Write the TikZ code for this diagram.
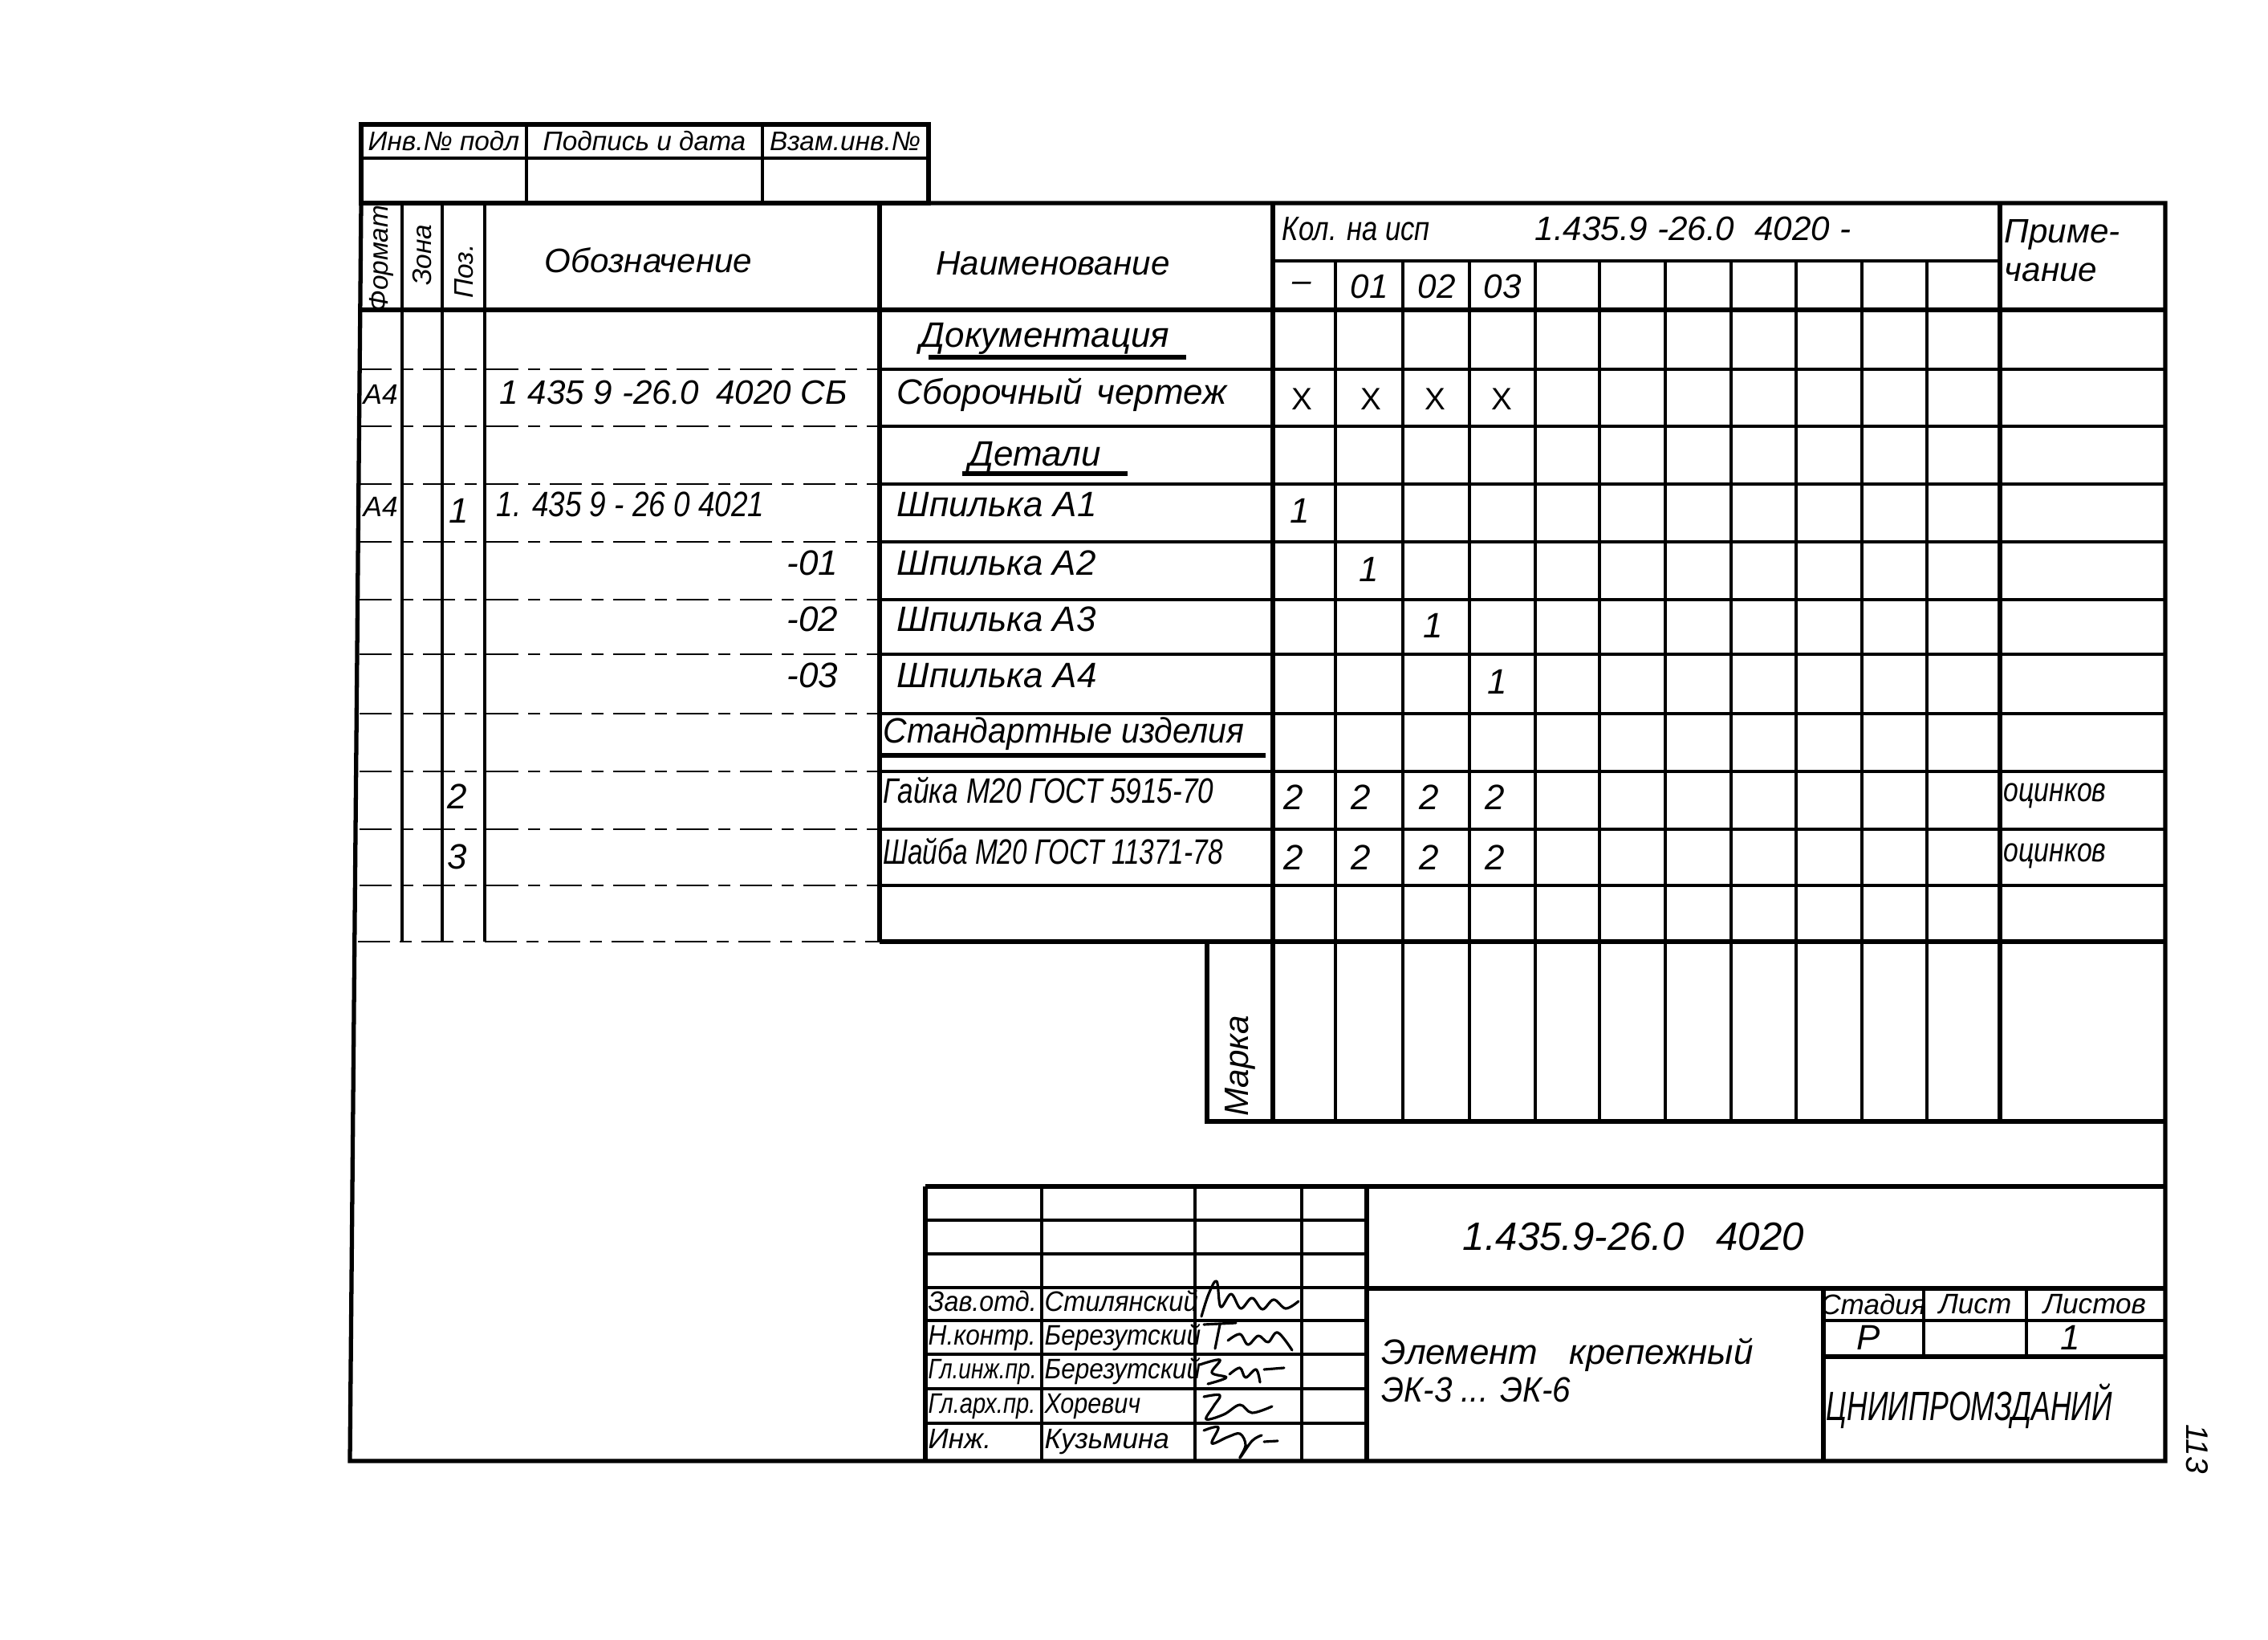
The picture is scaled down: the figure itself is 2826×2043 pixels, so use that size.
\documentclass[tikz,border=0pt]{standalone}
\usepackage{fontspec}
\setmainfont{Liberation Sans}
\newcommand{\nar}[2]{\scalebox{#1}[1]{#2}}
\begin{document}
\begin{tikzpicture}[x=0.1mm,y=-0.1mm,
  frm/.style={line width=1.5pt},
  grd/.style={line width=1.1pt},
  dsh/.style={line width=0.7pt,dash pattern=on 4mm off 1.2mm on 1.5mm off 1.2mm},
  sig/.style={line width=0.9pt,line cap=round,line join=round},
  ulin/.style={line width=1.6pt},
  tx/.style={inner sep=0pt,font=\fontsize{12.5}{14}\selectfont\itshape},
  tm/.style={inner sep=0pt,font=\fontsize{12}{14}\selectfont\itshape},
  ts/.style={inner sep=0pt,font=\fontsize{10}{12}\selectfont\itshape},
  tss/.style={inner sep=0pt,font=\fontsize{9.5}{11}\selectfont\itshape},
  tb/.style={inner sep=0pt,font=\fontsize{14}{16}\selectfont\itshape},
  xm/.style={inner sep=0pt,font=\fontsize{11}{12}\selectfont},
]
\fill[white] (0,0) rectangle (2826,2043);
\useasboundingbox (0,0) rectangle (2826,2043);

% ---------- stamp at top left ----------
\draw[frm] (450,155) rectangle (1157,253);
\draw[grd] (450,197) -- (1157,197) (656,155) -- (656,253) (950,155) -- (950,253);
\node[tss] (s1) at (553,176) {Инв.№ подл};
\node[tss] (s2) at (803,176) {Подпись и дата};
\node[tss] (s3) at (1053,176) {Взам.инв.№};

% ---------- outer frame ----------
\draw[frm] (450,253) -- (2698,253) -- (2698,1820) -- (436,1820) -- cycle;
\draw[frm] (450,386) -- (2698,386);
\draw[grd] (1586,325) -- (2492,325);
\foreach \x in {501,551,604} \draw[grd] (\x,253) -- (\x,1173);
\draw[frm] (1096,253) -- (1096,1173);
\draw[frm] (1586,253) -- (1586,1397);
\foreach \x in {1664,1748,1831,1913,1993,2075,2157,2238,2320,2401} \draw[grd] (\x,325) -- (\x,1397);
\draw[frm] (2492,253) -- (2492,1397);
\foreach \y in {460,531,603,675,747,815,889,961,1033,1103} {
  \draw[dsh] (448,\y) -- (1096,\y);
  \draw[grd] (1096,\y) -- (2698,\y);
}
\draw[dsh] (446,1173) -- (1096,1173);
\draw[frm] (1096,1173) -- (2698,1173);
\draw[frm] (1504,1173) -- (1504,1397) -- (2698,1397);

% ---------- header texts ----------
\node[tss,rotate=90] (hfmt) at (475,322) {Формат};
\node[tss,rotate=90] (hzon) at (526,318) {Зона};
\node[tss,rotate=90] (hpoz) at (578,338) {Поз.};
\node[tm] (hobz) at (808,324) {Обозначение};
\node[tm] (hnam) at (1312,328) {Наименование};
\node[tm,anchor=mid west] (hkol) at (1597,290) {\nar{0.82}{Кол. на исп}};
\node[tm,anchor=mid west] (hkol2) at (1912,290) {1.435.9 -26.0\hspace{0.6em}4020 -};
\node[tm] (q0) at (1622,357) {–};
\node[tm] (q1) at (1706,357) {01};
\node[tm] (q2) at (1790,357) {02};
\node[tm] (q3) at (1872,357) {03};
\node[tm,anchor=mid west] (hpr1) at (2497,293) {Приме-};
\node[tm,anchor=mid west] (hpr2) at (2497,341) {чание};

% ---------- body ----------
\node[tx] (r1) at (1302,422) {Документация};
\draw[ulin] (1157,445) -- (1478,445);

\node[ts,anchor=mid west] (r2f) at (452,494) {А4};
\node[tm,anchor=mid west] (r2d) at (622,494) {1 435 9 -26.0\hspace{0.5em}4020 СБ};
\node[tx,anchor=mid west] (r2n) at (1117,494) {Сборочный\hspace{0.4em}чертеж};
\node[xm] (x1) at (1622,497) {X};
\node[xm] (x2) at (1708,497) {X};
\node[xm] (x3) at (1788,497) {X};
\node[xm] (x4) at (1871,497) {X};

\node[tx] (r3) at (1290,570) {Детали};
\draw[ulin] (1199,590) -- (1405,590);

\node[ts,anchor=mid west] (r4f) at (452,634) {А4};
\node[tx] (r4p) at (572,636) {1};
\node[tx,anchor=mid west] (r4d) at (618,634) {\nar{0.84}{1. 435 9 - 26 0 4021}};
\node[tx,anchor=mid west] (r4n) at (1117,634) {Шпилька\hspace{0.3em}А1};
\node[tx] (r4q) at (1620,636) {1};

\node[tx,anchor=mid east] (r5d) at (1045,707) {-01};
\node[tx,anchor=mid west] (r5n) at (1117,707) {Шпилька А2};
\node[tx] (r5q) at (1706,709) {1};

\node[tx,anchor=mid east] (r6d) at (1045,777) {-02};
\node[tx,anchor=mid west] (r6n) at (1117,777) {Шпилька А3};
\node[tx] (r6q) at (1786,779) {1};

\node[tx,anchor=mid east] (r7d) at (1045,847) {-03};
\node[tx,anchor=mid west] (r7n) at (1117,847) {Шпилька\hspace{0.3em}А4};
\node[tx] (r7q) at (1866,849) {1};

\node[tx,anchor=mid west] (r8) at (1100,916) {\nar{0.93}{Стандартные изделия}};
\draw[ulin] (1099,941) -- (1577,941);

\node[tx] (r9p) at (570,992) {2};
\node[tx,anchor=mid west] (r9n) at (1100,991) {\nar{0.8}{Гайка\hspace{0.3em}М20 ГОСТ 5915-70}};
\node[tx] (r9a) at (1612,993) {2};
\node[tx] (r9b) at (1696,993) {2};
\node[tx] (r9c) at (1781,993) {2};
\node[tx] (r9d) at (1863,993) {2};
\node[tm,anchor=mid west] (r9r) at (2496,989) {\nar{0.8}{оцинков}};

\node[tx] (r10p) at (570,1067) {3};
\node[tx,anchor=mid west] (r10n) at (1100,1067) {\nar{0.76}{Шайба М20 ГОСТ 11371-78}};
\node[tx] (r10a) at (1612,1068) {2};
\node[tx] (r10b) at (1696,1068) {2};
\node[tx] (r10c) at (1781,1068) {2};
\node[tx] (r10d) at (1863,1068) {2};
\node[tm,anchor=mid west] (r10r) at (2496,1064) {\nar{0.8}{оцинков}};

\node[tm,rotate=90] (marka) at (1545,1328) {Марка};

% ---------- title block ----------
\draw[frm] (1153,1478) -- (2698,1478);
\draw[frm] (1153,1478) -- (1153,1820);
\foreach \y in {1520,1562,1604,1645,1687,1730,1773} \draw[grd] (1153,\y) -- (1703,\y);
\foreach \x in {1298,1489,1622} \draw[grd] (\x,1478) -- (\x,1820);
\draw[frm] (1703,1478) -- (1703,1820);
\draw[frm] (1703,1605) -- (2698,1605);
\draw[frm] (2272,1605) -- (2272,1820);
\draw[grd] (2272,1645) -- (2698,1645);
\draw[frm] (2272,1690) -- (2698,1690);
\draw[grd] (2397,1605) -- (2397,1690) (2525,1605) -- (2525,1690);

\node[ts,anchor=mid west] (p1) at (1156,1624) {\nar{0.92}{Зав.отд.}};
\node[ts,anchor=mid west] (p2) at (1156,1666) {\nar{0.9}{Н.контр.}};
\node[ts,anchor=mid west] (p3) at (1156,1708) {\nar{0.8}{Гл.инж.пр.}};
\node[ts,anchor=mid west] (p4) at (1156,1751) {\nar{0.83}{Гл.арх.пр.}};
\node[ts,anchor=mid west] (p5) at (1156,1795) {Инж.};
\node[ts,anchor=mid west] (n1) at (1301,1624) {\nar{0.93}{Стилянский}};
\node[ts,anchor=mid west] (n2) at (1301,1666) {\nar{0.9}{Березутский}};
\node[ts,anchor=mid west] (n3) at (1301,1708) {\nar{0.9}{Березутский}};
\node[ts,anchor=mid west] (n4) at (1301,1751) {\nar{0.87}{Хоревич}};
\node[ts,anchor=mid west] (n5) at (1301,1795) {Кузьмина};

% signatures
\draw[sig] plot[smooth,tension=0.6] coordinates {(1497,1640) (1506,1612) (1516,1596) (1521,1628) (1534,1612) (1546,1630) (1560,1617) (1573,1631) (1587,1619) (1602,1630) (1618,1621)};
\draw[sig] (1500,1650) -- (1540,1648);
\draw[sig] plot[smooth,tension=0.6] coordinates {(1520,1650) (1514,1680)};
\draw[sig] plot[smooth,tension=0.6] coordinates {(1530,1670) (1545,1662) (1555,1675) (1568,1664) (1580,1672) (1592,1660) (1610,1682)};
\draw[sig] plot[smooth,tension=0.6] coordinates {(1495,1700) (1520,1694) (1510,1710) (1528,1716) (1505,1724)};
\draw[sig] plot[smooth,tension=0.6] coordinates {(1532,1712) (1545,1704) (1552,1716) (1565,1706) (1570,1722)};
\draw[sig] (1575,1706) -- (1600,1704);
\draw[sig] plot[smooth,tension=0.6] coordinates {(1500,1740) (1520,1738) (1512,1752) (1503,1768) (1525,1762) (1545,1750) (1560,1760) (1585,1752)};
\draw[sig] plot[smooth,tension=0.6] coordinates {(1500,1782) (1518,1778) (1510,1798) (1530,1790) (1545,1786) (1552,1800) (1545,1816) (1560,1795) (1572,1788)};
\draw[sig] (1575,1796) -- (1592,1795);

\node[tb,anchor=mid west] (code) at (1822,1548) {1.435.9-26.0\hspace{0.8em}4020};
\node[tx,anchor=mid west] (nm1) at (1721,1690) {Элемент\hspace{0.9em}крепежный};
\node[tx,anchor=mid west] (nm2) at (1721,1737) {\nar{0.92}{ЭК-3 ... ЭК-6}};
\node[ts] (st1) at (2334,1625) {Стадия};
\node[ts] (st2) at (2461,1625) {Лист};
\node[ts] (st3) at (2610,1625) {Листов};
\node[tx] (st4) at (2328,1666) {Р};
\node[tx] (st5) at (2580,1666) {1};
\node[inner sep=0pt,font=\fontsize{14.5}{16}\selectfont\itshape,anchor=mid west] (org) at (2275,1760) {\nar{0.7}{ЦНИИПРОМЗДАНИЙ}};
\node[inner sep=0pt,font=\fontsize{11}{12}\selectfont\itshape,rotate=-90] (pg) at (2738,1805) {113};
\end{tikzpicture}
\end{document}
